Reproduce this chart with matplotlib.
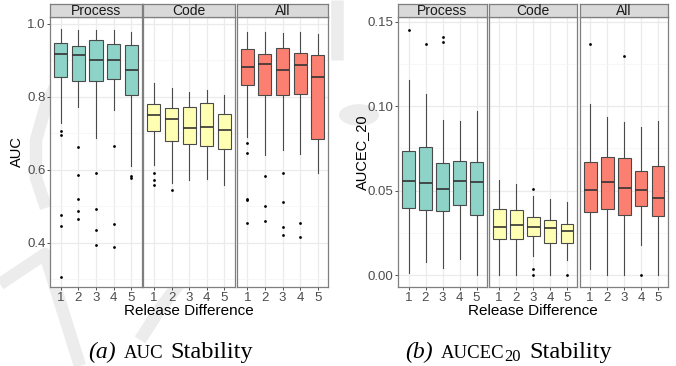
#!/usr/bin/env python3
"""
AUC / AUCEC_20 stability box plots (facets: Process, Code, All)
"""

import matplotlib
matplotlib.use('Agg')
import matplotlib.pyplot as plt
from matplotlib.lines import Line2D
from matplotlib.patches import Circle

W, H = 676, 366

groups = ['Process', 'Code', 'All']
release_diff = [1, 2, 3, 4, 5]
colors = ['#8DD3C7', '#FFFFB3', '#FB8072']

# rows: [whisker low, q1, median, q3, whisker high] per release difference
auc_process = [[0.727, 0.854, 0.918, 0.947, 0.985],
               [0.772, 0.842, 0.915, 0.939, 0.983],
               [0.688, 0.842, 0.900, 0.955, 0.982],
               [0.763, 0.849, 0.902, 0.946, 0.982],
               [0.610, 0.804, 0.874, 0.941, 0.977]]
auc_process_out = [[0.706, 0.695, 0.475, 0.445, 0.306],
                   [0.661, 0.586, 0.519, 0.486, 0.464],
                   [0.592, 0.491, 0.435, 0.392],
                   [0.666, 0.450, 0.387],
                   [0.582, 0.577]]
auc_code = [[0.612, 0.706, 0.750, 0.780, 0.839],
            [0.563, 0.680, 0.740, 0.768, 0.823],
            [0.573, 0.670, 0.715, 0.771, 0.812],
            [0.574, 0.666, 0.717, 0.783, 0.820],
            [0.559, 0.658, 0.709, 0.753, 0.805]]
auc_code_out = [[0.592, 0.571, 0.558], [0.543], [], [], []]
auc_all = [[0.690, 0.833, 0.883, 0.930, 0.978],
           [0.639, 0.805, 0.889, 0.917, 0.977],
           [0.655, 0.806, 0.873, 0.933, 0.976],
           [0.644, 0.807, 0.887, 0.919, 0.977],
           [0.591, 0.683, 0.853, 0.914, 0.973]]
auc_all_out = [[0.672, 0.647, 0.519, 0.516, 0.455],
               [0.583, 0.501, 0.459],
               [0.591, 0.512, 0.444, 0.420],
               [0.453, 0.415],
               []]

aucec_process = [[0.0012, 0.0395, 0.0560, 0.0734, 0.1156],
                 [0.0078, 0.0387, 0.0547, 0.0758, 0.1074],
                 [0.0043, 0.0377, 0.0510, 0.0666, 0.0918],
                 [0.0098, 0.0416, 0.0559, 0.0676, 0.0914],
                 [0.0000, 0.0357, 0.0553, 0.0672, 0.0969]]
aucec_process_out = [[0.145], [0.1367], [0.141, 0.1379], [], []]
aucec_code = [[0.0000, 0.0215, 0.0283, 0.0389, 0.0566],
              [0.0000, 0.0215, 0.0295, 0.0385, 0.0539],
              [0.0113, 0.0232, 0.0287, 0.0342, 0.0470],
              [0.0000, 0.0188, 0.0279, 0.0326, 0.0453],
              [0.0088, 0.0191, 0.0264, 0.0305, 0.0432]]
aucec_code_out = [[], [], [0.0512, 0.0035, 0.0], [], [0.0]]
aucec_all = [[0.0035, 0.0375, 0.0504, 0.0668, 0.1012],
             [0.0000, 0.0391, 0.0551, 0.0699, 0.0938],
             [0.0000, 0.0357, 0.0514, 0.0691, 0.0906],
             [0.0176, 0.0412, 0.0504, 0.0617, 0.0875],
             [0.0000, 0.0350, 0.0455, 0.0648, 0.0914]]
aucec_all_out = [[0.1367], [], [0.1297], [0.0], []]

plt.rcParams['font.family'] = ['Liberation Sans', 'DejaVu Sans']


def px_axes(fig, x0, x1, y0, y1, **kw):
    return fig.add_axes([x0 / W, 1 - y1 / H, (x1 - x0) / W, (y1 - y0) / H], **kw)


def make_stats(rows, outs):
    stats = []
    for r, o in zip(rows, outs):
        stats.append(dict(whislo=r[0], q1=r[1], med=r[2], q3=r[3], whishi=r[4], fliers=o))
    return stats


def draw_chart(fig, xs, data, ylim, yticks, yminor, yfmt, ylabel, ylabel_x):
    top, bottom = 17, 287
    for i, (x0, x1) in enumerate(xs):
        rows, outs = data[i]
        ax = px_axes(fig, x0, x1, top, bottom, facecolor='white')
        ax.set_axisbelow(True)
        ax.bxp(make_stats(rows, outs), positions=release_diff, widths=0.75,
               patch_artist=True, showcaps=False,
               boxprops=dict(facecolor=colors[i], edgecolor='#4a4a4a', linewidth=0.8),
               medianprops=dict(color='#333333', linewidth=1.2),
               whiskerprops=dict(color='#4a4a4a', linewidth=0.8),
               flierprops=dict(marker='o', markersize=2.0, markerfacecolor='black',
                               markeredgecolor='none'))
        ax.set_xlim(0.4, 5.6)
        ax.set_ylim(*ylim)
        ax.set_xticks(release_diff)
        ax.set_xticklabels([str(r) for r in release_diff])
        ax.set_yticks(yticks)
        ax.set_yticks(yminor, minor=True)
        ax.grid(True, which='major', color='#ebebeb', linewidth=0.9)
        ax.grid(True, which='minor', axis='y', color='#f4f4f4', linewidth=0.5)
        ax.tick_params(axis='both', which='major', labelsize=9.5, colors='#333333',
                       labelcolor='#4d4d4d', length=2.5, width=0.6, pad=1.0)
        ax.tick_params(axis='y', which='minor', length=0)
        if i == 0:
            ax.set_yticklabels([yfmt % v for v in yticks])
        else:
            ax.tick_params(axis='y', which='major', length=0, labelleft=False)
        for s in ax.spines.values():
            s.set_color('#7f7f7f')
            s.set_linewidth(0.9)

        # facet strip
        sx = px_axes(fig, x0, x1, 4, top, facecolor='#d9d9d9')
        sx.set_xticks([])
        sx.set_yticks([])
        for s in sx.spines.values():
            s.set_color('#7f7f7f')
            s.set_linewidth(0.9)
        sx.text(0.5, 0.45, groups[i], ha='center', va='center', fontsize=10,
                color='#1a1a1a', transform=sx.transAxes)

    xc = (xs[0][0] + xs[-1][1]) / 2
    fig.text(xc / W, 1 - 311 / H, 'Release Difference', ha='center', va='center',
             fontsize=11, color='black')
    fig.text(ylabel_x / W, 1 - 152 / H, ylabel, ha='center', va='center',
             rotation=90, fontsize=10.5, color='black')


def watermark(fig):
    c = '#ececec'
    strokes = [
        [(62, 74), (46, 105), (36, 140), (36, 178), (46, 208)],
        [(0, 284), (45, 254), (80, 366)],
        [(185, 276), (162, 306), (140, 340)],
        [(337, 0), (337, 60)],
    ]
    for pts in strokes:
        xs = [p[0] / W for p in pts]
        ys = [1 - p[1] / H for p in pts]
        fig.add_artist(Line2D(xs, ys, transform=fig.transFigure, color=c,
                              linewidth=9, solid_capstyle='butt', zorder=-5))
    circ = Circle((359 / W, 1 - 115 / H), 20 / W, transform=fig.transFigure,
                  facecolor=c, edgecolor='none', zorder=-5)
    fig.add_artist(circ)


def caption(fig, x, y, pieces):
    # pieces: (text, fontsize, style, dy_px, gap_px after)
    serif = ['Liberation Serif', 'DejaVu Serif']
    r = fig.canvas.get_renderer()
    for txt, size, style, dy, gap in pieces:
        t = fig.text(x / W, 1 - (y + dy) / H, txt, family=serif, style=style,
                     fontsize=size, va='baseline', ha='left')
        x += t.get_window_extent(renderer=r).width + gap


fig = plt.figure(figsize=(W / 100, H / 100), dpi=100)
watermark(fig)

left_x = [(50.3, 141.7), (143.3, 235.0), (236.7, 328.3)]
draw_chart(fig, left_x,
           [(auc_process, auc_process_out), (auc_code, auc_code_out), (auc_all, auc_all_out)],
           (0.278, 1.019), [0.4, 0.6, 0.8, 1.0], [0.3, 0.5, 0.7, 0.9], '%.1f', 'AUC', 17)

right_x = [(398.3, 486.7), (489.0, 577.3), (580.0, 668.3)]
draw_chart(fig, right_x,
           [(aucec_process, aucec_process_out), (aucec_code, aucec_code_out),
            (aucec_all, aucec_all_out)],
           (-0.007, 0.1528), [0.0, 0.05, 0.10, 0.15], [0.025, 0.075, 0.125], '%.2f',
           'AUCEC_20', 362)

# captions
caption(fig, 88, 358, [('(a)', 17, 'italic', 0, 8),
                       ('AUC', 13.5, 'normal', 0, 7),
                       ('Stability', 17.5, 'normal', 0, 0)])
caption(fig, 405, 358, [('(b)', 17, 'italic', 0, 8),
                        ('AUCEC', 13.5, 'normal', 0, 0),
                        ('20', 12, 'normal', 3, 9),
                        ('Stability', 17.5, 'normal', 0, 0)])

plt.savefig('out.png', dpi=100)
